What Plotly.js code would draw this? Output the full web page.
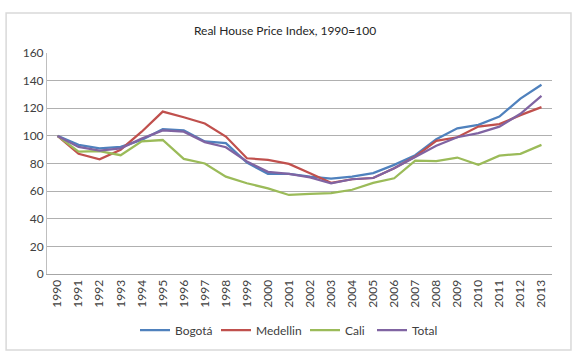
<!DOCTYPE html>
<html>
<head>
<meta charset="utf-8">
<script src="https://cdn.plot.ly/plotly-3.0.1.min.js"></script>
<style>html,body{margin:0;padding:0;background:#fff;}#chart{width:577px;height:358px;}</style>
</head>
<body>
<div id="chart"></div>
<script>
const years = ["1990","1991","1992","1993","1994","1995","1996","1997","1998","1999","2000","2001","2002","2003","2004","2005","2006","2007","2008","2009","2010","2011","2012","2013"];
const bogota   = [100, 93.5, 91, 92, 97, 104.8, 104, 96, 94.7, 80.7, 72.5, 72.5, 70.5, 69, 70.5, 73, 79, 86, 97.6, 105.5, 108, 114, 127, 137];
const medellin = [100, 87, 83, 90, 103, 117.6, 113.5, 109, 99.5, 83.8, 82.6, 79.7, 73, 66, 68.6, 69.5, 76.6, 85, 96.4, 99, 106.7, 108.5, 115, 120.8];
const cali     = [100, 88.6, 89, 86, 96, 97, 83.3, 80, 70.5, 65.7, 62, 57.2, 58, 58.5, 61, 66, 69.3, 82, 81.7, 84.3, 79, 85.7, 87, 93.5];
const total    = [100, 92, 89.4, 91, 98, 104, 103, 95.5, 91.8, 81.5, 74, 72.5, 70, 65.7, 68.6, 69.5, 76.6, 84.6, 92.8, 99, 102, 106.7, 116, 129];
const seriesNames = ["Bogotá", "Medellin", "Cali", "Total"];
const seriesColors = ["#4F81BD", "#C0504D", "#9BBB59", "#8064A2"];
const seriesData = [bogota, medellin, cali, total];

const font = "Lato, 'Open Sans', sans-serif";
const legendIds = ["legend", "legend2", "legend3", "legend4"];
const legendX = [135, 216, 305, 372];   // pixel where each legend entry starts

const traces = seriesData.map((d, i) => ({
  x: years, y: d, type: "scatter", mode: "lines", name: seriesNames[i],
  legend: legendIds[i],
  line: {color: seriesColors[i], width: 2.25}
}));

const plotL = 47, plotW = 505, plotB = 274, plotH = 221;
const layout = {
  width: 577, height: 358,
  margin: {l: plotL, r: 577 - plotL - plotW, t: 53, b: 84},
  paper_bgcolor: "#fff", plot_bgcolor: "#fff",
  font: {family: font, size: 12, color: "#404040"},
  title: {text: "Real House Price Index, 1990=100", font: {family: font, size: 12, color: "#262626"},
          x: 0.494, xref: "container", xanchor: "center", y: 0.913, yref: "container", yanchor: "middle"},
  xaxis: {type: "category", tickangle: -90, showgrid: false, showline: true, linecolor: "#a6a6a6",
          ticks: "", range: [-0.5, 23.5], tickfont: {size: 12, color: "#404040"}, fixedrange: true},
  yaxis: {range: [0, 160], dtick: 20, showgrid: true, gridcolor: "#b0b0b0", gridwidth: 1,
          showline: true, linecolor: "#bfbfbf", zeroline: false, ticks: "", ticklen: 0,
          tickfont: {size: 12, color: "#404040"}, fixedrange: true},
  showlegend: true,
  shapes: [{type: "rect", xref: "paper", yref: "paper", x0: -0.081, x1: 1.0376, y0: -0.344, y1: 1.181,
            line: {color: "#d9d9d9", width: 1.5}, fillcolor: "rgba(0,0,0,0)", layer: "below"}]
};
legendIds.forEach((id, i) => {
  layout[id] = {orientation: "h", x: (legendX[i] - plotL) / plotW, xanchor: "left",
                y: (plotB - 330) / plotH, yanchor: "middle",
                font: {size: 12, color: "#404040"}, itemwidth: 30, borderwidth: 0, bgcolor: "rgba(0,0,0,0)"};
});
Plotly.newPlot("chart", traces, layout, {displayModeBar: false, staticPlot: true});
</script>
</body>
</html>
